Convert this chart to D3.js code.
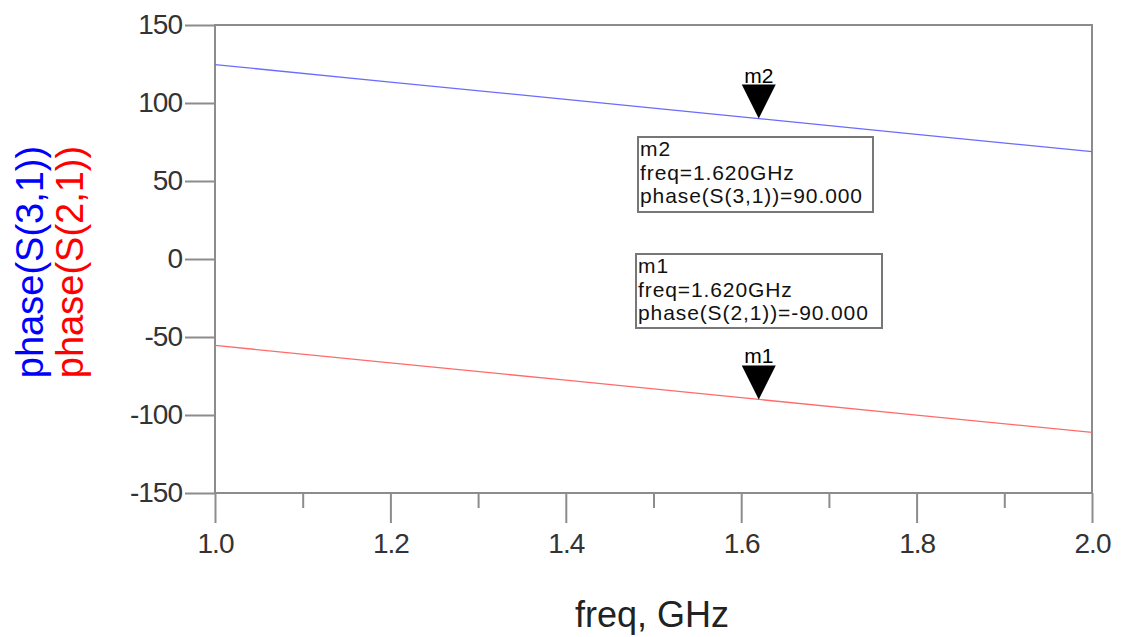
<!DOCTYPE html>
<html>
<head>
<meta charset="utf-8">
<script src="https://cdn.jsdelivr.net/npm/d3@7"></script>
<style>
	body { margin: 0; background: white; }
	text { font-family: "Liberation Sans", Arial, sans-serif; }
</style>
</head>
<body>
<svg id="chart" width="1121" height="637"></svg>
<script>
// values
var freq = [1.0, 1.2, 1.4, 1.62, 1.8, 2.0];
var phaseS31 = [124.6, 113.4, 102.3, 90.0, 79.9, 68.8];
var phaseS21 = [-55.4, -66.6, -77.7, -90.0, -100.1, -111.2];
var xTicks = [1.0, 1.2, 1.4, 1.6, 1.8, 2.0];
var xMinor = [1.1, 1.3, 1.5, 1.7, 1.9];
var yTicks = [150, 100, 50, 0, -50, -100, -150];
var markers = [
	{name: "m2", freq: 1.62, value: 90.0, label: "phase(S(3,1))=90.000"},
	{name: "m1", freq: 1.62, value: -90.0, label: "phase(S(2,1))=-90.000"}
];

var svg = d3.select("#chart");
var margin = {top: 25, right: 29, bottom: 144, left: 215};
var width = 1121 - margin.left - margin.right,
	height = 637 - margin.top - margin.bottom;
var axisColor = "#8c8c8c";

var x = d3.scaleLinear().domain([1.0, 2.0]).range([0, width]);
var y = d3.scaleLinear().domain([-150, 150]).range([height, 0]);

var g = svg.append("g")
	.attr("transform", "translate(" + margin.left + "," + margin.top + ")");

// y axis on the left, ticks pointing out (plain hyphen for minus, like the original)
var yAxis = d3.axisLeft(y).tickValues(yTicks).tickSize(30).tickPadding(3)
	.tickFormat(function(d) { return String(d); });
g.append("g").attr("class", "axis_y").call(yAxis);

// x axis, major and minor ticks
var xAxis = d3.axisBottom(x).tickValues(xTicks).tickSize(30).tickPadding(8).tickFormat(d3.format(".1f"));
g.append("g").attr("class", "axis_x")
	.attr("transform", "translate(0," + height + ")")
	.call(xAxis);
g.append("g").attr("class", "axis_minor")
	.attr("transform", "translate(0," + height + ")")
	.call(d3.axisBottom(x).tickValues(xMinor).tickSize(15).tickFormat(""));

g.selectAll(".domain").remove();
g.selectAll(".tick line").attr("stroke", axisColor).attr("stroke-width", 2);
g.selectAll(".axis_x .tick text, .axis_y .tick text")
	.attr("fill", "#333")
	.style("font-size", "28px")
	.style("letter-spacing", "-1px");
g.selectAll(".axis_x .tick text").attr("dy", "0.8em");

// plot frame
g.append("rect")
	.attr("width", width).attr("height", height)
	.attr("fill", "none")
	.attr("stroke", axisColor)
	.attr("stroke-width", 2);

// traces
var line = d3.line()
	.x(function(d) { return x(d[0]); })
	.y(function(d) { return y(d[1]); });
g.append("path")
	.datum(d3.zip(freq, phaseS31))
	.attr("d", line)
	.attr("fill", "none")
	.attr("stroke", "#6b6bff")
	.attr("stroke-width", 1.3);
g.append("path")
	.datum(d3.zip(freq, phaseS21))
	.attr("d", line)
	.attr("fill", "none")
	.attr("stroke", "#ff6b6b")
	.attr("stroke-width", 1.3);

// markers
markers.forEach(function(m) {
	var mx = x(m.freq), my = y(m.value);
	g.append("path")
		.attr("d", "M" + (mx - 17) + "," + (my - 34) + "L" + (mx + 17) + "," + (my - 34) + "L" + mx + "," + my + "Z")
		.attr("fill", "black");
	g.append("text")
		.attr("x", mx).attr("y", my - 36)
		.attr("text-anchor", "middle")
		.style("font-size", "21px")
		.attr("fill", "black")
		.text(m.name);
});

// marker readout boxes
var boxes = [
	{m: markers[0], x: 638, y: 137, w: 235, h: 75},
	{m: markers[1], x: 636, y: 254, w: 246, h: 74}
];
boxes.forEach(function(b) {
	svg.append("rect")
		.attr("x", b.x).attr("y", b.y)
		.attr("width", b.w).attr("height", b.h)
		.attr("fill", "white")
		.attr("stroke", "#777")
		.attr("stroke-width", 2);
	var lines = [b.m.name, "freq=" + d3.format(".3f")(b.m.freq) + "GHz", b.m.label];
	svg.append("g").selectAll("text")
		.data(lines).enter().append("text")
		.attr("x", b.x + 2)
		.attr("y", function(d, i) { return b.y + 19 + i * 23.5; })
		.attr("fill", "#111")
		.style("font-size", "21px")
		.style("letter-spacing", "0.9px")
		.text(function(d) { return d; });
});

// axis titles
svg.append("text")
	.attr("x", 652)
	.attr("y", 627)
	.attr("text-anchor", "middle")
	.attr("fill", "#222")
	.style("font-size", "36px")
	.text("freq, GHz");

var yMid = margin.top + height / 2 + 3;
svg.append("text")
	.attr("transform", "translate(43," + yMid + ") rotate(-90)")
	.attr("text-anchor", "middle")
	.attr("fill", "#0000ff")
	.style("font-size", "38px")
	.text("phase(S(3,1))");
svg.append("text")
	.attr("transform", "translate(83," + yMid + ") rotate(-90)")
	.attr("text-anchor", "middle")
	.attr("fill", "#ff0000")
	.style("font-size", "38px")
	.text("phase(S(2,1))");
</script>
</body>
</html>
